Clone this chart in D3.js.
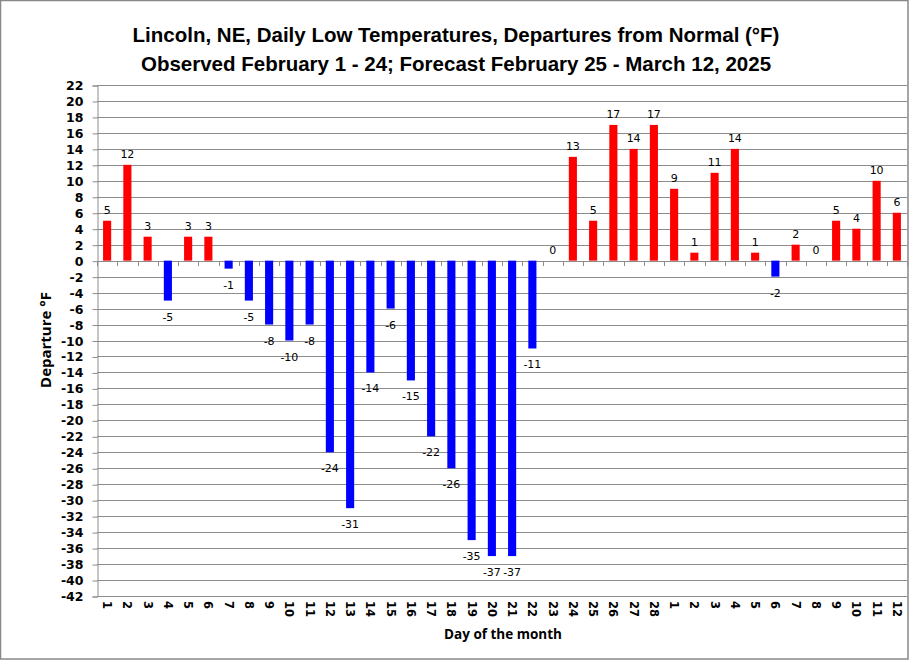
<!DOCTYPE html>
<html><head><meta charset="utf-8">
<script src="https://cdn.jsdelivr.net/npm/d3@7"></script>
<style>body{margin:0;background:#fff}svg{display:block}</style>
</head><body>
<script>
const categories = ["1","2","3","4","5","6","7","8","9","10","11","12","13","14","15","16","17","18","19","20","21","22","23","24","25","26","27","28","1","2","3","4","5","6","7","8","9","10","11","12"];
const departures = [5,12,3,-5,3,3,-1,-5,-8,-10,-8,-24,-31,-14,-6,-15,-22,-26,-35,-37,-37,-11,0,13,5,17,14,17,9,1,11,14,1,-2,2,0,5,4,10,6];
const yTicks = d3.range(-42, 23, 2);
const titleLines = ["Lincoln, NE, Daily Low Temperatures, Departures from Normal (°F)", "Observed February 1 - 24; Forecast February 25 - March 12, 2025"];

const W = 909, H = 660;
const svg = d3.select("body").append("svg").attr("width", W).attr("height", H);
svg.append("rect").attr("x",0.5).attr("y",0.5).attr("width",W-1.5).attr("height",H-1.5).attr("fill","#fff").attr("stroke","#888").attr("stroke-width",1.5);

const m = {left:97, right:907, top:85, bottom:596};
const idx = categories.map((d,i)=>i);
const x = d3.scaleBand().domain(idx).range([m.left, m.right]).paddingInner(0.6).paddingOuter(0.3);
const y = d3.scaleLinear().domain([-42, 22]).range([m.bottom, m.top]);

// gridlines
svg.append("g").selectAll("line").data(yTicks).join("line")
  .attr("x1", m.left).attr("x2", m.right)
  .attr("y1", d=>Math.round(y(d))+0.5).attr("y2", d=>Math.round(y(d))+0.5)
  .attr("stroke","#8c8c8c").attr("stroke-width",1);

// y axis
const yAxis = d3.axisLeft(y).tickValues(yTicks).tickSize(5).tickPadding(9).tickFormat(d=>String(d));
const gy = svg.append("g").attr("transform",`translate(${m.left+0.5},0.5)`).call(yAxis);
gy.select(".domain").attr("stroke","#8c8c8c");
gy.selectAll(".tick line").attr("stroke","#8c8c8c");
gy.selectAll("text").attr("font-family","DejaVu Sans, Verdana, sans-serif").attr("font-weight","bold").attr("font-size","12.5px").attr("fill","#000");

// bars
svg.append("g").selectAll("rect").data(departures).join("rect")
  .attr("x",(d,i)=>x(i)).attr("width",x.bandwidth())
  .attr("y",d=>y(Math.max(0,d))).attr("height",d=>Math.abs(y(d)-y(0)))
  .attr("fill",d=>d<0?"#0000ff":"#ff0000");

// zero-line ticks at category boundaries
const bounds = d3.range(categories.length+1).map(i=>m.left + i*(m.right-m.left)/categories.length);
svg.append("g").selectAll("line").data(bounds).join("line")
  .attr("x1",d=>Math.round(d)+0.5).attr("x2",d=>Math.round(d)+0.5)
  .attr("y1",Math.round(y(0))+0.5).attr("y2",Math.round(y(0))+5)
  .attr("stroke","#8c8c8c");

// bottom x labels
const xAxis = d3.axisBottom(x).tickFormat(i=>categories[i]).tickSize(0).tickPadding(0);
const gx = svg.append("g").attr("transform",`translate(0,${m.bottom})`).call(xAxis);
gx.select(".domain").remove();
gx.selectAll("text").attr("transform","rotate(90)").attr("x",5).attr("y",0).attr("dy","0.35em")
  .attr("text-anchor","start").attr("font-family","DejaVu Sans, Verdana, sans-serif").attr("font-weight","bold").attr("font-size","11.5px").attr("fill","#000");

// data labels
svg.append("g").selectAll("text").data(departures).join("text")
  .attr("x",(d,i)=>x(i)+x.bandwidth()/2)
  .attr("y",d=>d<0? y(d)+20 : y(d)-7)
  .attr("text-anchor","middle")
  .attr("font-family","DejaVu Sans, Verdana, sans-serif").attr("font-size","11px").attr("fill","#000")
  .text(d=>d);

// title
svg.append("g").selectAll("text").data(titleLines).join("text")
  .attr("x",456).attr("y",(d,i)=>42+i*29)
  .attr("text-anchor","middle")
  .attr("font-family","Liberation Sans Narrow, Arial Narrow, sans-serif").attr("font-weight","bold").attr("font-size","20.5px").attr("fill","#000")
  .text(d=>d);

// axis titles
svg.append("text").attr("transform","translate(51,340) rotate(-90)").attr("text-anchor","middle")
  .attr("font-family","Open Sans, DejaVu Sans, sans-serif").attr("font-weight","bold").attr("font-size","15px").text("Departure °F");
svg.append("text").attr("x",503).attr("y",639).attr("text-anchor","middle")
  .attr("font-family","Open Sans, DejaVu Sans, sans-serif").attr("font-weight","bold").attr("font-size","13.5px").text("Day of the month");
</script>
</body></html>
